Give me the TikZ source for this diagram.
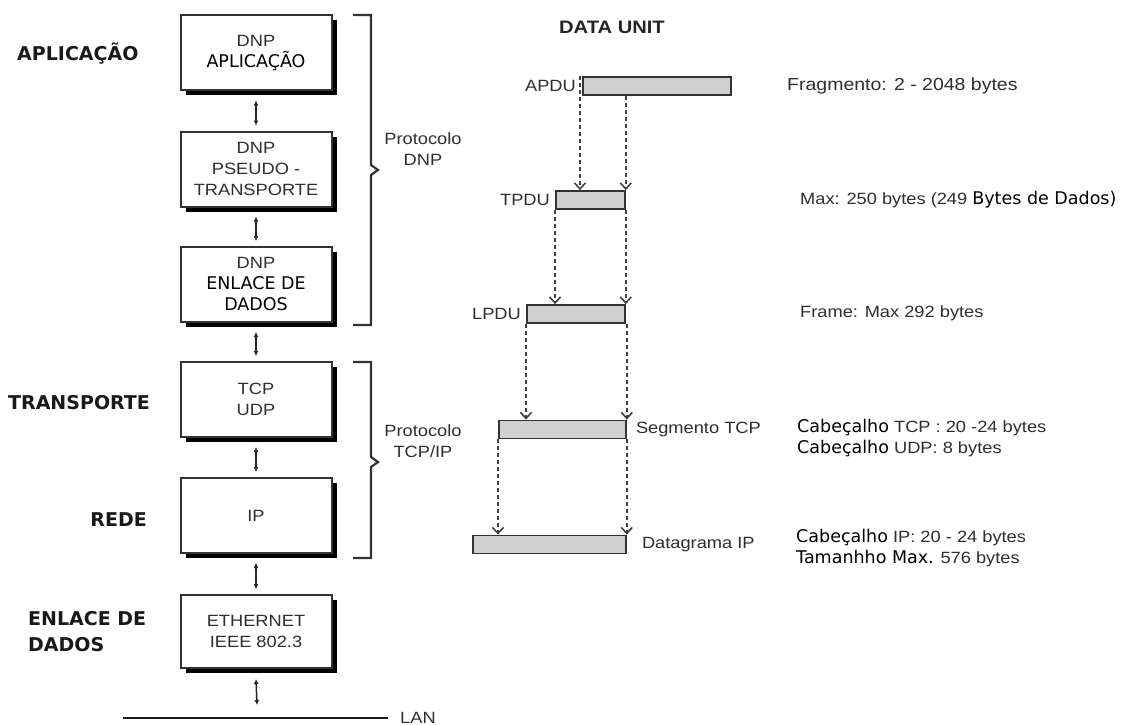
\documentclass[tikz,border=0pt]{standalone}
\usepackage{fontspec}
\setmainfont{Liberation Sans}
\newfontfamily\grayfont[FakeStretch=1.12]{Liberation Sans}
\newfontfamily\darkfont{DejaVu Sans}
\usetikzlibrary{arrows.meta}

\definecolor{txtgray}{HTML}{2E2E2E}
\definecolor{barfill}{HTML}{D0D0D0}
\definecolor{linegray}{HTML}{333333}

% font switches: plain grey Arial-like text and darker emphasised text
\newcommand\gtxt{\grayfont\fontsize{16.3}{21}\selectfont\color{txtgray}}
\newcommand\dtxt{\darkfont\fontsize{17.5}{21}\selectfont\color{black}}
\newcommand\ltxt{\darkfont\bfseries\fontsize{19}{26}\selectfont\color{black!90}}

\tikzset{
  layer/.style={draw=black!80, line width=2pt, fill=white,
    minimum width=151pt, minimum height=75pt, align=center, inner sep=0pt,
    font=\gtxt},
  box shadow/.style={draw=black, line width=4pt, line cap=butt, line join=miter},
  dbl/.style={line width=1.5pt, draw=black!85,
    {Latex[length=5pt,width=5pt]}-{Latex[length=5pt,width=5pt]}},
  bar/.style={draw=black!80, line width=1.8pt, fill=barfill,
    minimum height=18pt, inner sep=0pt, anchor=west},
  flow/.style={draw=black!75, dash pattern=on 4pt off 3pt, line width=1.6pt,
    -{Straight Barb[length=6pt,width=11pt,line width=1.6pt]}},
  brace/.style={draw=linegray, line width=2.2pt},
  gray label/.style={font=\gtxt, inner sep=0pt, align=left},
  layer label/.style={font=\ltxt, inner sep=0pt, align=left},
}

\begin{document}
\begin{tikzpicture}[x=1pt, y=-1pt]
\useasboundingbox (0,0) rectangle (1133,725);
\fill[white] (0,0) rectangle (1133,725);

% ---- protocol stack ----
\node[layer] (app)    at (256,53)    {DNP\\{\dtxt APLICAÇÃO}};
\node[layer] (pseudo) at (256,169)   {DNP\\PSEUDO -\\TRANSPORTE};
\node[layer] (link)   at (256,284.5) {DNP\\{\dtxt ENLACE DE}\\{\dtxt DADOS}};
\node[layer] (tcp)    at (256,399.5) {TCP\\UDP};
\node[layer] (ip)     at (256,515.5) {IP};
\node[layer, minimum height=73pt] (eth) at (256,631.5) {ETHERNET\\IEEE 802.3};

% drop shadows: a thick stroke along the right and bottom edge of each box
\foreach \bx in {app,pseudo,link,tcp,ip,eth}
  \draw[box shadow] ([xshift=2pt,yshift=-6pt]\bx.north east)
    -- ([xshift=2pt,yshift=-2pt]\bx.south east)
    -- ([xshift=6pt,yshift=-2pt]\bx.south west);

\draw[dbl] ([yshift=-9pt]app.south)    -- ([yshift=5pt]pseudo.north);
\draw[dbl] ([yshift=-9pt]pseudo.south) -- ([yshift=5pt]link.north);
\draw[dbl] ([yshift=-9pt]link.south)   -- ([yshift=5pt]tcp.north);
\draw[dbl] ([yshift=-9pt]tcp.south)    -- ([yshift=5pt]ip.north);
\draw[dbl] ([yshift=-9pt]ip.south)     -- ([yshift=5pt]eth.north);

% LAN medium
\coordinate (lanL) at (123,718);
\coordinate (lanR) at (388,718);
\coordinate (lanM) at (257,718);
\draw[line width=2.2pt, draw=black!90] (lanL) -- (lanR);
\node[gray label, anchor=west] (lan) at ([xshift=12pt]lanR) {LAN};
\draw[dbl] ([yshift=-10pt]eth.south) -- ([yshift=13pt]lanM);

% layer names
\node[layer label, anchor=west] (lapp) at (17,54)   {APLICAÇÃO};
\node[layer label, anchor=west] (ltra) at (8,403)   {TRANSPORTE};
\node[layer label, anchor=east] (lnet) at (147,520) {REDE};
\node[layer label, anchor=west] (llnk) at (28,632)  {ENLACE DE\\DADOS};

% protocol braces
\draw[brace] (353,15) -- (371,15) -- (371,165) -- (378,170) -- (371,175) -- (371,325) -- (353,325);
\node[gray label, align=center] (pdnp) at (423,149) {Protocolo\\DNP};
\draw[brace] (353,362) -- (371,362) -- (371,457) -- (378,462) -- (371,467) -- (371,558) -- (353,558);
\node[gray label, align=center] (ptcp) at (423,441.5) {Protocolo\\TCP/IP};

% ---- data units ----
\node[font=\grayfont\bfseries\fontsize{18}{22}\selectfont\color{black!85}, inner sep=0pt] (title) at (612,27) {DATA UNIT};

\node[bar, minimum width=148pt] (apdu)  at (582,86)    {};
\node[bar, minimum width=69pt]  (tpdu)  at (555,200)   {};
\node[bar, minimum width=98pt]  (lpdu)  at (526,314)   {};
\node[bar, minimum width=127pt] (seg)   at (498,429.5) {};
\node[bar, minimum width=153pt] (dgram) at (472,544.5) {};

\node[gray label, anchor=east] (apdul) at ([xshift=-6pt]apdu.west) {APDU};
\node[gray label, anchor=east] (tpdul) at ([xshift=-5pt]tpdu.west) {TPDU};
\node[gray label, anchor=east] (lpdul) at ([xshift=-5pt]lpdu.west) {LPDU};
\node[gray label, anchor=west] (segl)  at ([xshift=9pt]seg.east)    {Segmento TCP};
\node[gray label, anchor=west] (dgl)   at ([xshift=15pt]dgram.east) {Datagrama IP};

% segmentation arrows
\coordinate (a1) at ([xshift=-2pt]apdu.north west);
\draw[flow] (a1) -- (a1 |- tpdu.north);
\draw[flow] (tpdu.north east |- apdu.south) -- (tpdu.north east);
\draw[flow] (tpdu.south west) -- (tpdu.south west |- lpdu.north);
\draw[flow] (lpdu.north east |- tpdu.south) -- (lpdu.north east);
\draw[flow] (lpdu.south west) -- (lpdu.south west |- seg.north);
\draw[flow] (seg.north east |- lpdu.south) -- (seg.north east);
\draw[flow] (seg.south west) -- (seg.south west |- dgram.north);
\draw[flow] (dgram.north east |- seg.south) -- (dgram.north east);

% sizes
\node[gray label, anchor=west, font=\grayfont\fontsize{17.4}{21}\selectfont\color{txtgray}] (sz1) at (787,86) {Fragmento: 2 - 2048 bytes};
\node[gray label, anchor=west] (sz2) at (800,200) {Max: 250 bytes (249 {\dtxt Bytes de Dados)}};
\node[gray label, anchor=west] (sz3) at (800,313) {Frame: Max 292 bytes};
\node[gray label, anchor=west] (sz4) at (797,438) {{\dtxt Cabeçalho} TCP : 20 -24 bytes\\{\dtxt Cabeçalho} UDP: 8 bytes};
\node[gray label, anchor=west] (sz5) at (796,548) {{\dtxt Cabeçalho} IP: 20 - 24 bytes\\{\dtxt Tamanhho Max.} 576 bytes};
\end{tikzpicture}
\end{document}
